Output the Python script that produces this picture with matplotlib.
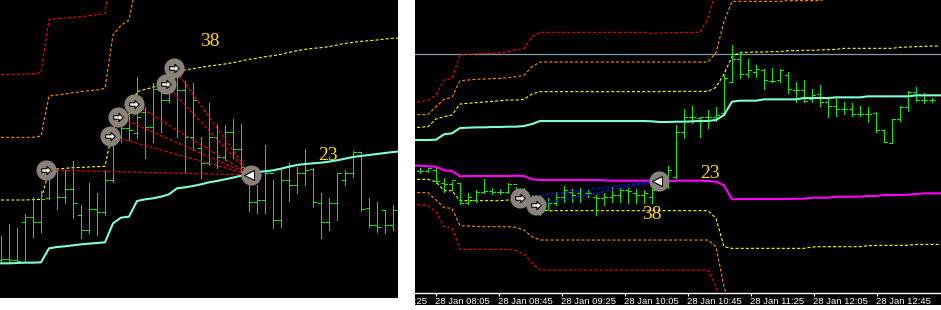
import numpy as np
import matplotlib
matplotlib.use('Agg')
from matplotlib import pyplot as plt

plt.rcParams['lines.scale_dashes'] = False

# ---------------- left chart (price levels: bigger value = lower on screen) ----------------
L_hi = [708, 672, 685, 643, 592, 573, 485, 505, 510, 484, 615, 550, 580, 510, 385, 325, 345, 232, 320, 250,
        260, 180, 178, 243, 248, 410, 310, 372, 375, 357, 372, 500, 555, 435, 540, 505, 490, 500, 447, 505,
        580, 595, 520, 510, 452, 455, 595, 605, 630, 614]
L_lo = [790, 785, 785, 785, 712, 695, 596, 628, 610, 655, 715, 700, 705, 644, 545, 425, 420, 415, 475, 425,
        395, 305, 410, 518, 450, 535, 495, 505, 480, 475, 515, 632, 640, 640, 685, 680, 603, 580, 555, 620,
        715, 690, 660, 555, 532, 632, 680, 695, 700, 690]
L_open = [780, 778, 780, 667, 650, 665, 595, 512, 592, 568, 645, 690, 628, 637, 540, 410, 385, 400, 335, 380,
          270, 300, 220, 270, 410, 445, 490, 410, 470, 395, 448, 540, 605, 600, 520, 660, 540, 555, 520, 507,
          608, 665, 608, 540, 520, 455, 625, 675, 630, 675]
L_close = [778, 780, 782, 650, 665, 598, 512, 592, 568, 608, 690, 628, 635, 540, 410, 385, 390, 350, 380, 268,
           300, 190, 270, 410, 300, 490, 410, 470, 395, 448, 500, 605, 600, 520, 660, 540, 555, 520, 510, 605,
           665, 608, 520, 518, 455, 628, 675, 680, 675, 630]
L_ma = [790, 790, 789, 788, 788, 787, 745, 741, 739, 736, 733, 731, 729, 727, 670, 653, 650, 603, 598, 595,
        590, 583, 565, 562, 558, 553, 547, 543, 538, 533, 527, 520, 516, 514, 511, 506, 500, 495, 492, 490,
        488, 485, 481, 476, 471, 468, 465, 462, 459, 456, 454]
L_band1 = [600, 600, 600, 600, 599, 598, 512, 507, 505, 503, 502, 501, 500, 499, 385, 360, 342, 275, 268, 262,
           255, 232, 213, 210, 206, 202, 198, 195, 192, 188, 183, 178, 175, 170, 167, 163, 157, 152, 148, 145,
           143, 140, 135, 130, 127, 124, 122, 120, 117, 115, 114]
L_band2 = [412, 412, 412, 412, 412, 408, 288, 285, 282, 278, 275, 272, 270, 265, 105, 76, 60, -60]
L_band3 = [224, 223, 223, 222, 222, 218, 58, 56, 54, 52, 50, 47, 44, 40, -120]
L_entry_x = [5.6, 13.6, 14.6, 16.6, 20.6, 21.6]
L_entry_y = [510, 407, 350, 311, 253, 203]
L_exit_x, L_exit_y = 31.2, 525
L_notes = [("38", 26.1, 125), ("23", 40.9, 465)]

# ---------------- right chart (5-minute bars, index 0 = 28 Jan 08:05) ----------------
R_first = -2
R_hi = [505, 503, 505, 535, 545, 550, 580, 570, 537, 563, 568, 548, 560, 565, 585, 585, 595, 575, 558, 568,
        565, 570, 585, 578, 560, 565, 565, 568, 570, 565, 530, 498, 375, 328, 318, 352, 330, 320, 225, 135,
        157, 178, 195, 208, 203, 208, 217, 245, 240, 267, 255, 295, 295, 307, 310, 318, 322, 337, 390, 357,
        318, 273, 262, 280, 295]
R_lo = [520, 517, 550, 577, 570, 613, 613, 605, 580, 583, 583, 580, 610, 615, 625, 645, 630, 615, 605, 605,
        605, 590, 645, 615, 605, 605, 610, 610, 610, 610, 570, 565, 535, 415, 370, 412, 383, 362, 345, 247,
        235, 230, 230, 267, 245, 245, 278, 307, 305, 305, 317, 350, 347, 343, 347, 347, 365, 395, 427, 430,
        362, 332, 302, 310, 305]
R_open = [513, 512, 510, 548, 552, 550, 610, 600, 575, 572, 575, 575, 553, 595, 600, 612, 605, 608, 590, 575,
          580, 578, 590, 595, 592, 585, 570, 580, 585, 590, 560, 528, 530, 395, 350, 355, 352, 350, 340, 245,
          178, 223, 215, 210, 242, 240, 225, 270, 270, 298, 282, 305, 318, 328, 328, 343, 343, 340, 390, 428,
          358, 322, 275, 300, 300]
R_close = [513, 505, 543, 552, 540, 610, 590, 575, 572, 575, 575, 553, 595, 600, 612, 605, 608, 590, 570, 585,
           570, 580, 595, 592, 585, 570, 572, 585, 580, 570, 540, 510, 395, 352, 350, 352, 350, 345, 233, 178,
           223, 210, 208, 240, 242, 210, 268, 270, 302, 285, 307, 318, 328, 328, 343, 343, 342, 390, 427, 358,
           322, 275, 300, 300, 300]
R_line_first = -3
R_ma_up = [420, 420, 420, 419, 403, 400, 384, 383, 382, 382, 381, 381, 380, 380, 378, 372, 363,
           363, 363, 363, 363, 363, 363, 363, 363, 363, 363, 363, 363, 363, 364, 366,
           366, 365, 365, 364, 363, 363, 360, 345, 305, 302, 302, 302, 298, 298, 298, 298, 298,
           294, 294, 294, 294, 292, 292, 292, 292, 289, 289, 289, 289, 289, 289, 286, 286, 286, 286]
R_ma_dn = [497, 497, 499, 500, 511, 513, 529, 528, 528, 528, 528, 528, 528, 527, 528, 538, 540,
           540, 540, 540, 540, 540, 540, 540, 541, 542, 542, 542, 542, 542, 542, 543,
           543, 542, 542, 542, 542, 543, 545, 556, 598, 597, 597, 597, 597, 597, 597, 597, 596,
           596, 593, 593, 593, 590, 590, 590, 590, 588, 588, 585, 585, 585, 584, 582, 580, 580, 580]
R_up1 = [383, 382, 380, 357, 350, 345, 312, 310, 308, 306, 304, 302, 300, 300, 298, 282, 275,
         275, 275, 275, 275, 275, 275, 275, 275, 275, 275, 275, 275, 275, 275, 275, 274, 274, 274, 274, 274, 274,
         262, 222, 170, 157, 157, 156, 156, 155, 155, 152, 152, 151, 151, 150, 149, 148,
         145, 145, 145, 145, 145, 145, 145, 142, 141, 140, 139, 138, 138]
R_up2 = [345, 344, 343, 320, 298, 292, 242, 240, 238, 237, 236, 235, 233, 230, 226, 200, 186,
         186, 186, 186, 186, 186, 186, 186, 186, 186, 186, 186, 186, 186, 186, 186, 186, 186, 186, 186, 186, 186,
         158, 65, 4, 4, 4, 4, 4, 4, 4, 2, 2, 2, 2, 2,
         -5, -5, -5, -5, -5, -5, -5, -5, -5, -5, -5, -5, -5, -5, -5]
R_up3 = [307, 305, 300, 285, 240, 235, 165, 163, 162, 161, 160, 158, 155, 150, 145, 110, 97,
         97, 97, 97, 97, 97, 97, 97, 97, 97, 97, 97, 97, 97, 100, 99, 98, 98, 97, 97, 97, 55, -30]
R_dn1 = [538, 538, 538, 545, 572, 572, 602, 602, 602, 602, 602, 602, 600, 600, 605, 615, 630,
         632, 632, 632, 632, 632, 632, 632, 632, 632, 632, 632, 632, 632, 632, 632, 632, 632, 632, 632, 632, 632,
         655, 740, 745, 745, 745, 745, 745, 745, 745, 745, 745, 745, 741, 740, 740, 740, 740, 740, 740,
         737, 736, 736, 736, 736, 736, 733, 733, 733, 733]
R_dn2 = [578, 578, 578, 600, 623, 625, 677, 678, 679, 680, 680, 680, 680, 682, 690, 710, 720,
         720, 720, 720, 720, 720, 720, 720, 720, 720, 720, 720, 720, 720, 720, 720, 720, 720, 720, 720, 720, 720,
         740, 860, 940]
R_dn3 = [615, 614, 618, 635, 680, 683, 748, 748, 748, 748, 748, 748, 748, 752, 762, 790, 810,
         810, 810, 810, 810, 810, 810, 810, 810, 810, 810, 810, 810, 810, 810, 810, 810, 810, 810, 810, 810, 810,
         858, 960]
R_price_line = 162
R_entry_x = [10.5, 12.5]
R_entry_y = [594, 614]
R_exit_x, R_exit_y = 27.9, 543
R_notes = [("23", 34.3, 520), ("38", 27.0, 643)]
R_time_labels = ["28 Jan 07:25", "28 Jan 08:05", "28 Jan 08:45", "28 Jan 09:25", "28 Jan 10:05",
                 "28 Jan 10:45", "28 Jan 11:25", "28 Jan 12:05", "28 Jan 12:45"]
R_time_pos = [-7.875, 0, 7.875, 15.75, 23.625, 31.5, 39.375, 47.25, 55.125]

BAR = '#00f000'
DASH = (2.2, 1.5)
arrow = [(-1, -0.35), (0.1, -0.35), (0.1, -0.85), (1, 0), (0.1, 0.85), (0.1, 0.35), (-1, 0.35), (-1, -0.35)]


def ohlc(ax, x, hi, lo, op, cl):
    x = np.asarray(x, float)
    ax.vlines(x, hi, lo, color=BAR, lw=0.72, antialiased=False, zorder=3)
    ax.hlines(op, x - 0.375, x, color=BAR, lw=0.72, antialiased=False, zorder=3)
    ax.hlines(cl, x, x + 0.375, color=BAR, lw=0.72, antialiased=False, zorder=3)


def band(ax, y, first, color):
    ax.plot(np.arange(first, first + len(y)), y, color=color, lw=0.8, dashes=DASH, zorder=2)


def signals(ax, ex, ey, xx, xy):
    ax.plot(ex, ey, 'o', ms=14.5, color='#8a8179', mec='none', zorder=5)
    ax.plot(ex, ey, marker=arrow, ls='none', ms=7, mfc='white', mec='black', mew=0.8, zorder=6)
    ax.plot([xx], [xy], 'o', ms=14.5, color='#8a8179', mec='none', zorder=5)
    ax.plot([xx - 0.25], [xy], marker='<', ls='none', ms=7, mfc='white', mec='black', mew=0.8, zorder=6)


fig = plt.figure(figsize=(9.41, 3.10), dpi=100, facecolor='white')

# left panel
axL = fig.add_axes([0, 12 / 310, 398 / 941, 298 / 310])
axL.set_facecolor('black')
n = len(L_hi)
ohlc(axL, np.arange(n), L_hi, L_lo, L_open, L_close)
axL.plot(np.arange(len(L_ma)), L_ma, color='#7fffd4', lw=1.5, zorder=4)
band(axL, L_band1, 0, '#ffff00')
band(axL, L_band2, 0, '#ff8c00')
band(axL, L_band3, 0, '#ff0000')
for ex, ey in zip(L_entry_x, L_entry_y):
    axL.plot([ex, L_exit_x], [ey, L_exit_y], color='#ff0000', lw=0.8, dashes=DASH, zorder=4)
signals(axL, L_entry_x, L_entry_y, L_exit_x, L_exit_y)
for s, x, y in L_notes:
    axL.text(x, y, s, color='#ffd700', fontsize=14, family='Liberation Serif', ha='center', va='center', zorder=7)
axL.set_xlim(-0.125, 49.625)
axL.set_ylim(894, 0)
axL.set_xticks([])
axL.set_yticks([])
for sp in axL.spines.values():
    sp.set_visible(False)

# right panel
axR = fig.add_axes([415 / 941, 17.3 / 310, 526 / 941, 292.7 / 310])
axR.set_facecolor('black')
m = len(R_hi)
ohlc(axR, np.arange(R_first, R_first + m), R_hi, R_lo, R_open, R_close)
axR.axhline(R_price_line, color='#8898a8', lw=0.9, zorder=1)
k = np.arange(R_line_first, R_line_first + len(R_ma_up))
axR.plot(k, R_ma_up, color='#7fffd4', lw=1.5, zorder=4)
axR.plot(k, R_ma_dn, color='#ff00ff', lw=1.5, zorder=4)
band(axR, R_up1, R_line_first, '#ffff00')
band(axR, R_up2, R_line_first, '#ff8c00')
band(axR, R_up3, R_line_first, '#ff0000')
band(axR, R_dn1, R_line_first, '#ffff00')
band(axR, R_dn2, R_line_first, '#ff8c00')
band(axR, R_dn3, R_line_first, '#ff0000')
for ex, ey in zip(R_entry_x, R_entry_y):
    axR.plot([ex, R_exit_x], [ey, R_exit_y], color='#1010ff', lw=0.9, dashes=DASH, zorder=4)
signals(axR, R_entry_x, R_entry_y, R_exit_x, R_exit_y)
for s, x, y in R_notes:
    axR.text(x, y, s, color='#ffd700', fontsize=14, family='Liberation Serif', ha='center', va='center', zorder=7)
axR.set_xlim(-2.625, 63.125)
axR.set_ylim(878, 0)
axR.set_xticks([])
axR.set_yticks([])
for sp in axR.spines.values():
    sp.set_visible(False)

# time strip under the right panel
axT = fig.add_axes([415 / 941, 4.7 / 310, 526 / 941, 12.6 / 310], sharex=axR)
axT.set_facecolor('black')
axT.set_ylim(0, 1)
axT.set_yticks([])
axT.tick_params(bottom=False, labelbottom=False)
for name, sp in axT.spines.items():
    sp.set_visible(name == 'top')
axT.spines['top'].set_color('white')
axT.spines['top'].set_linewidth(1.0)
axT.vlines(R_time_pos, 0.75, 1, color='white', lw=0.8)
for x, s in zip(R_time_pos, R_time_labels):
    axT.text(x - 0.1, 0.33, s, color='white', fontsize=6.8, family='Liberation Sans',
             ha='left', va='center', clip_on=True)
axR.set_xlim(-2.625, 63.125)

fig.savefig('out.png', dpi=100, facecolor='white')
